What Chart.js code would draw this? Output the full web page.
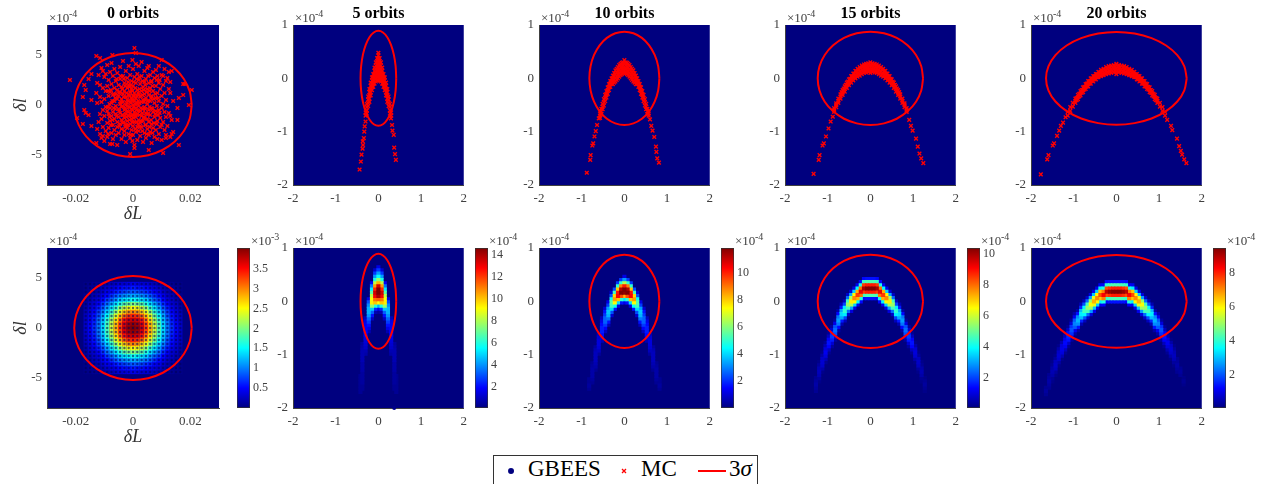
<!DOCTYPE html>
<html>
<head>
<meta charset="utf-8">
<script src="https://cdn.jsdelivr.net/npm/chart.js@4"></script>
<style>
body{margin:0;background:#fff;width:1265px;height:484px;overflow:hidden;position:relative;font-family:'Liberation Serif',serif}
canvas{position:absolute}
#legend{position:absolute;left:493px;top:455px;width:263px;height:40px;border:1px solid #333;background:#fff}
#legend span{position:absolute;top:1px;font-size:23px;line-height:23px;color:#000;white-space:nowrap}
#legend svg{position:absolute;left:0;top:0}
</style>
</head>
<body>
<div id="legend">
<svg width="263" height="30"><circle cx="17" cy="15" r="3" fill="#00007f"/><path d="M128 13l4 4M132 13l-4 4" stroke="#f00" stroke-width="1.3"/><line x1="204" y1="15" x2="232" y2="15" stroke="#f00" stroke-width="2"/></svg>
<span style="left:34px">GBEES</span><span style="left:147px">MC</span><span style="left:235px">3<i>σ</i></span>
</div>
<script>
const orbits = ['0 orbits','5 orbits','10 orbits','15 orbits','20 orbits'];
const xTicks0 = [-0.02,0,0.02], yTicks0 = [-5,0,5];
const xTicks = [-2,-1,0,1,2], yTicks = [-2,-1,0,1];
const cbTicks = [[0.5,1,1.5,2,2.5,3,3.5],[2,4,6,8,10,12,14],[2,4,6,8,10],[2,4,6,8,10],[2,4,6,8]];
const cbRange = [[0,4.02],[0.07,14.6],[0,11.8],[0.06,10.4],[0.03,9.45]];
const cbExp = ['-3','-4','-4','-4','-4'];

// 3 sigma ellipses
const sigX0 = [.0205,.0198,.01775,.0145,.01025,.0053,0,-.0053,-.01025,-.0145,-.01775,-.0198,-.0205,-.0198,-.01775,-.0145,-.01025,-.0053,0,.0053,.01025,.0145,.01775,.0198,.0205];
const sigY0 = [0,1.35,2.6,3.68,4.5,5.02,5.2,5.02,4.5,3.68,2.6,1.35,0,-1.35,-2.6,-3.68,-4.5,-5.02,-5.2,-5.02,-4.5,-3.68,-2.6,-1.35,0];
const sigX5 = [.418,.404,.362,.296,.209,.108,0,-.108,-.209,-.296,-.362,-.404,-.418,-.404,-.362,-.296,-.209,-.108,0,.108,.209,.296,.362,.404,.418];
const sigY5 = [0,.23,.445,.629,.771,.86,.89,.86,.771,.629,.445,.23,0,-.23,-.445,-.629,-.771,-.86,-.89,-.86,-.771,-.629,-.445,-.23,0];
const sigX10 = [.82,.792,.71,.58,.41,.212,0,-.212,-.41,-.58,-.71,-.792,-.82,-.792,-.71,-.58,-.41,-.212,0,.212,.41,.58,.71,.792,.82];
const sigY10 = [0,.227,.438,.619,.758,.845,.875,.845,.758,.619,.438,.227,0,-.227,-.438,-.619,-.758,-.845,-.875,-.845,-.758,-.619,-.438,-.227,0];
const sigX15 = [1.234,1.192,1.069,.872,.617,.32,0,-.32,-.617,-.872,-1.069,-1.192,-1.234,-1.192,-1.069,-.872,-.617,-.32,0,.32,.617,.872,1.069,1.192,1.234];
const sigY15 = [0,.227,.438,.619,.758,.845,.875,.845,.758,.619,.438,.227,0,-.227,-.438,-.619,-.758,-.845,-.875,-.845,-.758,-.619,-.438,-.227,0];
const sigX20 = [1.648,1.592,1.427,1.165,.824,.427,0,-.427,-.824,-1.165,-1.427,-1.592,-1.648,-1.592,-1.427,-1.165,-.824,-.427,0,.427,.824,1.165,1.427,1.592,1.648];
const sigY20 = [0,.225,.435,.615,.753,.84,.87,.84,.753,.615,.435,.225,0,-.225,-.435,-.615,-.753,-.84,-.87,-.84,-.753,-.615,-.435,-.225,0];

// Monte Carlo samples, one list per column: [x, y, y, ...]
const mc0 = [[-.022,2.5],[-.0128,4.9,-3.8,1.2],[-.0115,4.7,-.9],[-.0072,5,-3.9],[.0005,5.7,-4.3],[.001,5.2],[-.0002,4.5,-3.6],[.01,4.5,-2],[.0205,1.5],[.0195,0],[-.0195,-1.3],[-.0175,-1.9,.8],[-.0105,-3.1,3.4],[.016,-4,.7],[.0105,-4.8,2.9],[-.001,-4.9],[.0055,-4.5,3.9],[.0175,1,2.1],[.018,2.1],[.0135,3.4,-1.5,-2.9],[.014,-2.7,.4],[-.0165,1.5,-.8],[-.017,-.5,2],[-.0155,-1,2.6],[.0155,-.3,-1.5],[-.0125,2.2,-2.4,.2],[.0125,1.6,-.8,3.3],[.0115,2.4,-1.2,-3],[-.0145,.5,-2.1,3.1],[-.012,-1.7,3],
[-.0115,.8,-2.9,2],[-.011,3.7,-1.4,.3,-3.3],[-.0105,1.7,-.5,-2.2],[-.01,2.8,.6,-1.1,-3.6],[-.0095,3.1,-.2,-2.6,1.4],[-.009,4,1.9,-1.8,-.6,-3.2],[-.0085,.9,2.5,-.9,-2.3],[-.008,3.3,1.3,-.3,-1.6,-3.9],[-.0075,2.1,.2,-2.8,-1.1,4.2],[-.007,2.9,1,-.7,-2,-3.4],[-.0065,1.7,.4,-1.4,3.6,-2.5],[-.006,2.4,-.1,-.9,1.1,-3],
[-.0055,3.2,1.5,.6,-1.7,-2.2,-4],[-.005,2,.9,-.4,-1.2,-2.8],[-.0045,3.8,2.6,1.3,.1,-.8,-1.9],[-.004,1.8,.6,-.2,-1.5,-2.4,-3.4],[-.0035,2.9,1.1,.3,-1,-1.8,4.4],[-.003,2.2,1.4,-.5,-1.3,-2.6,-3],[-.0025,3.4,.8,0,-.9,-2,-3.7],[-.002,2.7,1.7,.5,-.6,-1.6,-2.3],[-.0015,3.9,2,1,-.2,-1.1,-2.9],[-.001,3,1.3,.3,-.8,-1.9,-3.3],[-.0005,2.4,1.6,.6,-.4,-1.4,-2.5],
[0,3.6,1.9,.9,0,-1,-2.1,-3],[.0005,2.8,1.2,.4,-.7,-1.7,-4],[.001,4.1,2.2,.7,-.3,-1.2,-2.7],[.0015,3.1,1.5,.2,-.9,-2.2,-3.5],[.002,3.9,2.5,1,-.1,-1.5,-2.6],[.0025,2.1,.8,-.6,-1.8,-3.1],[.003,4.3,2.9,1.4,.3,-1.1,-2.2],[.0035,1.8,.5,-.4,-1.6,-3.7],[.004,3.4,2.3,1.1,-.2,-1.3,-2.8],[.0045,2.6,.7,-.8,-2,-3.3],[.005,3.7,1.6,.1,-1.4,-2.4],[.0055,2.2,1,-.5,-1.7,-3],
[.006,3,.4,-1,-2.7,1.7],[.0065,2.4,.9,-.3,-1.9,-3.8],[.007,3.3,1.4,-.7,-2.3],[.0075,2.7,.2,-1.2,-3.2],[.008,1.9,.7,-.6,-2.5,3.5],[.0085,2.9,1.2,-1.6,-3.4],[.009,.4,-.5,2.2,-2.9,3.9],[.0095,1.6,-1.3,-2.2],[.01,3,.9,-.3,-3.5],[.0105,2,-1.7,.1],[.011,3.6,1.2,-.7,-2.5],[.0115,.5,-3.3],[.012,2.7,-.1,-2.1],[.013,1.2,-1.1,-3.2,2.3],
[-.0062,.7,-.4],[-.0057,-1.1,2.6],[-.0048,1.2,-.6,-2.1],[-.0043,.3,2.9],[-.0037,-1,1.6,-.1],[-.0032,.8,-1.7,2.6],[-.0027,-.3,1.9,-2.2],[-.0022,1.2,-1.2,.2],[-.0017,2.3,.4,-.7,-2],[-.0012,.9,-.2,1.8,-1.5],[-.0007,2,.2,-1.1,-3],[-.0002,1.4,.5,-.5,-1.7],[.0003,2.3,.9,-.2,-1.3],[.0008,1.7,.1,-1,-2.4],[.0013,2.6,.9,-.5,-1.7],[.0018,1.2,.4,-.6,-1.9],[.0023,2.8,1.6,.2,-1,-2.2],[.0028,.9,-.3,-1.6],[.0033,2.4,1,-.8,-2.6],[.0038,.3,1.5,-1.2],[.0043,2,.5,-.4,-2],[.0048,1.3,-.9,-2.9],[.0053,2.9,.4,-.9],[.0058,1.4,-.2,-2.2],[.0063,.7,-1.5,2.3],[.0068,1.9,-.4,-2.8],[.0073,.6,-1.8],[-.0067,1.1,-.3],[-.0072,.4,-1.5],[-.0077,1.5,-2],[-.0082,.1,-1.2],[-.0087,1.4,-.2,-2.9],[.0078,1.1,-.9],[.0083,-.1,2.5,-1.9],[.0088,.7,-1],[.0093,2.5,-.8]];
const mc5 = [[-.44,-1.71],[-.41,-1.56],[-.395,-1.43],[-.37,-1.32],[-.36,-1.25],[-.365,-1.18],[-.34,-1.12],[-.33,-1],[-.32,-.9],[-.3,-.81,-.64,-.7],[-.27,-.48,-.54,-.6,-.66],[-.24,-.34,-.4,-.46,-.52],[-.21,-.2,-.26,-.32,-.38,-.44],[-.18,-.08,-.14,-.2,-.26,-.32],[-.15,.02,-.04,-.1,-.16,-.22],[-.12,.08,.02,-.04,-.1,-.16],[-.09,.2,.14,.08,.02,-.04,-.1],[-.06,.3,.24,.18,.12,.06,0,-.06],[-.03,.38,.32,.26,.2,.14,.08,.02,-.04],[0,.48,.43,.38,.32,.26,.2,.14,.08,.02,-.04],[.03,.38,.32,.26,.2,.14,.08,.02,-.04],[.06,.3,.24,.18,.12,.06,0,-.06],[.09,.2,.14,.08,.02,-.04,-.1],[.12,.08,.02,-.04,-.1,-.16],[.15,.02,-.04,-.1,-.16,-.22],[.18,-.08,-.14,-.2,-.26,-.32],[.21,-.2,-.26,-.32,-.38,-.44],[.24,-.34,-.4,-.46,-.52],[.27,-.48,-.54,-.6,-.66],[.3,-.64,-.7],[.295,-.75],[.32,-.875],[.33,-.98],[.36,-1.06],[.37,-1.3],[.39,-1.42],[.41,-1.53]];
const mc10 = [[-.88,-1.77],[-.8,-1.53],[-.79,-1.44],[-.75,-1.26],[-.73,-1.22],[-.7,-1.09],[-.67,-.99],[-.64,-.875],[-.6,-.75],[-.57,-.66,-.7,-.74],[-.54,-.57,-.62,-.67],[-.51,-.48,-.53,-.58],[-.48,-.39,-.45,-.51],[-.45,-.31,-.37,-.43],[-.42,-.24,-.3,-.36],[-.39,-.17,-.23,-.29],[-.36,-.11,-.16,-.22],[-.33,-.05,-.1,-.16],[-.3,0,-.05,-.11],[-.27,.05,0,-.05,-.11],[-.24,.1,.04,-.03,-.08],[-.21,.15,.08,.01,-.06],[-.18,.18,.11,.04,-.03],[-.15,.21,.14,.07,0],[-.12,.25,.17,.1,.03],[-.09,.27,.2,.13,.06],[-.06,.29,.22,.15,.08],[-.03,.3,.24,.17,.1],[0,.34,.28,.22,.16,.1],[.03,.3,.24,.17,.1],[.06,.29,.22,.15,.08],[.09,.27,.2,.13,.06],[.12,.25,.17,.1,.03],[.15,.21,.14,.07,0],[.18,.18,.11,.04,-.03],[.21,.15,.08,.01,-.06],[.24,.1,.04,-.03,-.08],[.27,.05,0,-.05,-.11],[.3,0,-.05,-.11],[.33,-.05,-.1,-.16],[.36,-.11,-.16,-.22],[.39,-.17,-.23,-.29],[.42,-.24,-.3,-.36],[.45,-.31,-.37,-.43],[.48,-.39,-.45,-.51],[.51,-.48,-.53,-.58],[.54,-.57,-.62,-.67],[.57,-.66,-.7],[.6,-.77],[.63,-.89],[.66,-.98],[.7,-1.1],[.74,-1.28],[.75,-1.38],[.77,-1.5],[.81,-1.58]];
const mc15 = [[-1.33,-1.79],[-1.21,-1.53],[-1.19,-1.44],[-1.12,-1.26],[-1.09,-1.22],[-1.04,-1.09],[-.98,-.94],[-.93,-.81],[-.88,-.72],[-.85,-.56,-.6,-.63],[-.8,-.47,-.5,-.54],[-.75,-.38,-.42,-.46],[-.7,-.3,-.34,-.38],[-.65,-.22,-.27,-.31],[-.6,-.15,-.2,-.25],[-.55,-.08,-.13,-.18],[-.5,-.02,-.08,-.13],[-.45,.04,-.02,-.08],[-.4,.09,.03,-.04],[-.35,.14,.07,0],[-.3,.18,.1,.03],[-.25,.21,.13,.05],[-.2,.24,.16,.08],[-.15,.26,.18,.1],[-.1,.27,.19,.11],[-.05,.28,.2,.12],[0,.3,.25,.2,.14,.1],[.05,.28,.2,.12],[.1,.27,.19,.11],[.15,.26,.18,.1],[.2,.24,.16,.08],[.25,.21,.13,.05],[.3,.18,.1,.03],[.35,.14,.07,0],[.4,.09,.03,-.04],[.45,.04,-.02,-.08],[.5,-.02,-.08,-.13],[.55,-.08,-.13,-.18],[.6,-.15,-.2,-.25],[.65,-.22,-.27,-.31],[.7,-.3,-.34,-.38],[.75,-.38,-.42,-.46],[.8,-.47,-.5,-.54],[.85,-.56,-.6,-.63],[.91,-.78],[.95,-.89],[.99,-.98],[1.07,-1.13],[1.11,-1.28],[1.15,-1.41],[1.19,-1.5],[1.24,-1.59],
[-.675,-.26,-.3],[-.625,-.19,-.23],[-.575,-.12,-.17],[-.525,-.06,-.11],[-.475,-.01,-.06],[-.425,.04,-.02],[-.375,.09,.02],[-.325,.13,.05],[-.275,.16,.08],[-.225,.19,.11],[-.175,.21,.13],[-.125,.22,.14],[-.075,.23,.15],[-.025,.24,.16],[.025,.24,.16],[.075,.23,.15],[.125,.22,.14],[.175,.21,.13],[.225,.19,.11],[.275,.16,.08],[.325,.13,.05],[.375,.09,.02],[.425,.04,-.02],[.475,-.01,-.06],[.525,-.06,-.11],[.575,-.12,-.17],[.625,-.19,-.23],[.675,-.26,-.3]];
const mc20 = [[-1.77,-1.8],[-1.62,-1.52],[-1.59,-1.44],[-1.49,-1.26],[-1.46,-1.22],[-1.39,-1.08],[-1.34,-.98],[-1.3,-.89],[-1.25,-.83],[-1.19,-.73],[-1.14,-.63,-.7],[-1.08,-.54,-.61],[-1.02,-.46,-.53],[-.96,-.38,-.42,-.46],[-.9,-.31,-.35,-.39],[-.84,-.24,-.28,-.32],[-.78,-.17,-.22,-.26],[-.72,-.11,-.16,-.2],[-.66,-.05,-.1,-.15],[-.6,0,-.05,-.1],[-.54,.04,-.01,-.06],[-.48,.08,.03,-.02],[-.42,.12,.07,.02],[-.36,.16,.1,.04],[-.3,.18,.12,.06],[-.24,.21,.14,.08],[-.18,.23,.16,.09],[-.12,.24,.17,.1],[-.06,.25,.18,.11],[0,.27,.2,.13,.08],[.06,.25,.18,.11],[.12,.24,.17,.1],[.18,.23,.16,.09],[.24,.21,.14,.08],[.3,.18,.12,.06],[.36,.16,.1,.04],[.42,.12,.07,.02],[.48,.08,.03,-.02],[.54,.04,-.01,-.06],[.6,0,-.05,-.1],[.66,-.05,-.1,-.15],[.72,-.11,-.16,-.2],[.78,-.17,-.22,-.26],[.84,-.24,-.28,-.32],[.9,-.31,-.35,-.39],[.96,-.38,-.42,-.46],[1.02,-.46,-.53],[1.08,-.54,-.61],[1.14,-.63,-.7],[1.19,-.78],[1.28,-.89],[1.31,-.97],[1.42,-1.13],[1.47,-1.27],[1.51,-1.36],[1.54,-1.43],[1.59,-1.52],[1.64,-1.59],
[-.93,-.37,-.41],[-.87,-.29,-.34],[-.81,-.22,-.27],[-.75,-.16,-.21],[-.69,-.1,-.15],[-.63,-.05,-.1],[-.57,0,-.05],[-.51,.04,-.02],[-.45,.08,.02],[-.39,.11,.05],[-.33,.14,.07],[-.27,.16,.09],[-.21,.18,.11],[-.15,.2,.13],[-.09,.21,.14],[-.03,.22,.15],[.03,.22,.15],[.09,.21,.14],[.15,.2,.13],[.21,.18,.11],[.27,.16,.09],[.33,.14,.07],[.39,.11,.05],[.45,.08,.02],[.51,.04,-.02],[.57,0,-.05],[.63,-.05,-.1],[.69,-.1,-.15],[.75,-.16,-.21],[.81,-.22,-.27],[.87,-.29,-.34],[.93,-.37,-.41]];

// GBEES density, percent of the colorbar. 0 orbit panel is a full table
const heatX0 = [-.0165,-.015,-.0135,-.012,-.0105,-.009,-.0075,-.006,-.0045,-.003,-.0015,0,.0015,.003,.0045,.006,.0075,.009,.0105,.012,.0135,.015,.0165];
const heatY0 = [4.4,4,3.6,3.2,2.8,2.4,2,1.6,1.2,.8,.4,0,-.4,-.8,-1.2,-1.6,-2,-2.4,-2.8,-3.2,-3.6,-4,-4.4];
const heat0 = [
[1,1,2,2,3,4,6,7,8,9,10,10,10,9,8,7,6,4,3,2,2,1,1],
[1,2,2,4,5,7,9,10,12,14,14,15,14,14,12,10,9,7,5,4,2,2,1],
[1,2,4,5,7,10,12,15,17,19,21,21,21,19,17,15,12,10,7,5,4,2,1],
[2,3,5,7,10,13,17,21,24,27,29,29,29,27,24,21,17,13,10,7,5,3,2],
[3,4,7,9,13,18,22,27,32,36,38,39,38,36,32,27,22,18,13,9,7,4,3],
[3,6,8,12,17,23,29,35,41,46,49,50,49,46,41,35,29,23,17,12,8,6,3],
[4,7,10,15,21,28,36,43,51,57,61,62,61,57,51,43,36,28,21,15,10,7,4],
[5,8,12,18,25,33,42,52,60,67,72,74,72,67,60,52,42,33,25,18,12,8,5],
[6,9,14,20,29,38,48,59,69,77,82,84,82,77,69,59,48,38,29,20,14,9,6],
[6,10,15,23,31,42,53,65,76,85,91,93,91,85,76,65,53,42,31,23,15,10,6],
[7,11,16,24,33,44,56,69,80,90,96,98,96,90,80,69,56,44,33,24,16,11,7],
[7,11,17,24,34,45,58,70,82,92,98,100,98,92,82,70,58,45,34,24,17,11,7],
[7,11,16,24,33,44,56,69,80,90,96,98,96,90,80,69,56,44,33,24,16,11,7],
[6,10,15,23,31,42,53,65,76,85,91,93,91,85,76,65,53,42,31,23,15,10,6],
[6,9,14,20,29,38,48,59,69,77,82,84,82,77,69,59,48,38,29,20,14,9,6],
[5,8,12,18,25,33,42,52,60,67,72,74,72,67,60,52,42,33,25,18,12,8,5],
[4,7,10,15,21,28,36,43,51,57,61,62,61,57,51,43,36,28,21,15,10,7,4],
[3,6,8,12,17,23,29,35,41,46,49,50,49,46,41,35,29,23,17,12,8,6,3],
[3,4,7,9,13,18,22,27,32,36,38,39,38,36,32,27,22,18,13,9,7,4,3],
[2,3,5,7,10,13,17,21,24,27,29,29,29,27,24,21,17,13,10,7,5,3,2],
[1,2,4,5,7,10,12,15,17,19,21,21,21,19,17,15,12,10,7,5,4,2,1],
[1,2,2,4,5,7,9,10,12,14,14,15,14,14,12,10,9,7,5,4,2,2,1],
[1,1,2,2,3,4,6,7,8,9,10,10,10,9,8,7,6,4,3,2,2,1,1]];

// other panels: [x, top y, v, v, ...] going down in steps of 0.06
const heat5 = [[-.42,-1.4,2,2,2,2,2,2],[-.375,-.8,3,4,5,5,5,5,4,4,4,3,3,3,3,2,2],[-.3,-.32,6,10,11,12,12,11,10,9,8,7,5,4],[-.225,.04,10,20,26,30,30,27,22,18,14,10,5],[-.15,.34,12,24,36,46,56,62,64,52,32,22,14,6],[-.075,.58,8,18,28,40,56,72,84,92,88,76,68,40,16,5],[0,.64,10,18,28,38,52,70,92,100,100,96,78,62,30,10,3],[.075,.58,8,18,28,40,56,72,84,92,88,76,68,40,16,5],[.15,.34,12,24,36,46,56,62,64,52,32,22,14,6],[.225,.04,10,20,26,30,30,27,22,18,14,10,5],[.3,-.32,6,10,11,12,12,11,10,9,8,7,5,4],[.375,-.8,3,4,5,5,5,5,4,4,4,3,3,3,3,2,2],[.42,-1.4,2,2,2,2,2,2]];
const heat10 = [[-.825,-1.46,2,2,3,2],[-.75,-1.16,2,3,4,4,4,3,2],[-.675,-.86,3,5,6,6,6,5,4,2],[-.6,-.62,5,8,9,9,8,6,3],[-.525,-.32,6,10,13,15,15,13,9,5],[-.45,-.14,8,14,18,22,22,18,12,6],[-.375,-.02,10,18,28,32,30,24,14,6],[-.3,.16,8,20,38,46,44,34,20,8],[-.225,.22,20,44,66,72,62,38,14],[-.15,.34,18,42,68,86,88,68,34,10],[-.075,.4,18,42,75,95,100,80,42,14],[0,.46,10,28,55,85,100,98,70,35,10],[.075,.4,18,42,75,95,100,80,42,14],[.15,.34,18,42,68,86,88,68,34,10],[.225,.22,20,44,66,72,62,38,14],[.3,.16,8,20,38,46,44,34,20,8],[.375,-.02,10,18,28,32,30,24,14,6],[.45,-.14,8,14,18,22,22,18,12,6],[.525,-.32,6,10,13,15,15,13,9,5],[.6,-.62,5,8,9,9,8,6,3],[.675,-.86,3,5,6,6,6,5,4,2],[.75,-1.16,2,3,4,4,4,3,2],[.825,-1.46,2,2,3,2]];
const heat15 = [[-1.275,-1.44,2,3,4,3,2],[-1.2,-1.14,1,3,5,6,5,3,1],[-1.125,-.96,1,4,7,8,7,4,1],[-1.05,-.78,2,5,9,11,9,5,2],[-.975,-.6,2,6,12,14,12,6,2],[-.9,-.48,3,8,15,18,15,8,3],[-.825,-.36,3,10,20,23,20,10,3],[-.75,-.18,4,13,24,28,24,13,4],[-.675,-.06,5,15,29,34,29,15,5],[-.6,0,6,19,36,42,36,19,6],[-.525,.12,7,23,44,52,44,23,7],[-.45,.18,9,29,54,64,54,29,9],[-.375,.24,10,33,63,74,63,33,10],[-.3,.3,11,37,70,82,70,37,11],[-.225,.36,13,40,76,90,76,40,13],[-.15,.42,13,43,82,96,82,43,13],[-.075,.42,14,45,85,100,85,45,14],[0,.42,14,45,85,100,85,45,14],[.075,.42,14,45,85,100,85,45,14],[.15,.42,13,43,82,96,82,43,13],[.225,.36,13,40,76,90,76,40,13],[.3,.3,11,37,70,82,70,37,11],[.375,.24,10,33,63,74,63,33,10],[.45,.18,9,29,54,64,54,29,9],[.525,.12,7,23,44,52,44,23,7],[.6,0,6,19,36,42,36,19,6],[.675,-.06,5,15,29,34,29,15,5],[.75,-.18,4,13,24,28,24,13,4],[.825,-.36,3,10,20,23,20,10,3],[.9,-.48,3,8,15,18,15,8,3],[.975,-.6,2,6,12,14,12,6,2],[1.05,-.78,1,4,8,9,8,4,1],[1.125,-.96,1,3,6,7,6,3,1],[1.2,-1.14,1,2,4,5,4,2,1],[1.275,-1.44,1,2,3,2,1]];
const heat20 = [[-1.65,-1.62,2,3,2],[-1.575,-1.38,2,3,4,3,2],[-1.5,-1.14,1,2,4,5,4,2,1],[-1.425,-1.02,1,3,6,7,6,3,1],[-1.35,-.84,1,4,7,8,7,4,1],[-1.275,-.72,1,5,9,10,9,5,1],[-1.2,-.6,2,6,11,13,11,6,2],[-1.125,-.48,2,7,14,16,14,7,2],[-1.05,-.36,3,9,17,20,17,9,3],[-.975,-.24,4,11,21,25,21,11,4],[-.9,-.18,4,14,26,30,26,14,4],[-.825,-.06,5,16,31,36,31,16,5],[-.75,0,6,20,37,44,37,20,6],[-.675,.06,7,23,44,52,44,23,7],[-.6,.12,9,28,53,62,53,28,9],[-.525,.18,10,32,60,70,60,32,10],[-.45,.24,10,33,63,74,63,33,10],[-.375,.3,11,36,68,80,68,36,11],[-.3,.3,12,40,75,88,75,40,12],[-.225,.36,13,42,80,94,80,42,13],[-.15,.36,14,44,83,98,83,44,14],[-.075,.36,14,45,85,100,85,45,14],[0,.36,14,45,85,100,85,45,14],[.075,.36,14,45,85,100,85,45,14],[.15,.36,14,44,83,98,83,44,14],[.225,.36,13,42,80,94,80,42,13],[.3,.3,12,40,75,88,75,40,12],[.375,.3,11,36,68,80,68,36,11],[.45,.24,10,33,63,74,63,33,10],[.525,.18,10,32,60,70,60,32,10],[.6,.12,9,28,53,62,53,28,9],[.675,.06,7,23,44,52,44,23,7],[.75,0,6,20,37,44,37,20,6],[.825,-.06,5,16,31,36,31,16,5],[.9,-.18,4,14,26,30,26,14,4],[.975,-.24,4,11,21,25,21,11,4],[1.05,-.36,3,9,17,20,17,9,3],[1.125,-.48,2,6,12,14,12,6,2],[1.2,-.6,2,5,9,11,9,5,2],[1.275,-.72,1,4,7,8,7,4,1],[1.35,-.84,1,3,5,6,5,3,1],[1.425,-1.08,2,3,4,3,2],[1.5,-1.26,2,3,2],[1.575,-1.44,1,2,1]];
const stray5 = [[.37,-2]];

const mcAll = [mc0,mc5,mc10,mc15,mc20];
const heatAll = [null,heat5,heat10,heat15,heat20];
const sigAll = [[sigX0,sigY0],[sigX5,sigY5],[sigX10,sigY10],[sigX15,sigY15],[sigX20,sigY20]];

// page layout
const plotLeft = [47,293,539,785,1031];
const barLeft = [237,475,721,967,1213];
const serif = "'Liberation Serif',serif";
const gray = '#404040';
const navy = '#00007f';

function clamp(v){ return Math.max(0,Math.min(1,v)); }
function jet(p){
  const t = p/100;
  const r = clamp(Math.min(4*t-1.5,-4*t+4.5));
  const g = clamp(Math.min(4*t-0.5,-4*t+3.5));
  const b = clamp(Math.min(4*t+0.5,-4*t+2.5));
  return 'rgb('+Math.round(r*255)+','+Math.round(g*255)+','+Math.round(b*255)+')';
}

function addCanvas(left,top,w,h){
  const c = document.createElement('canvas');
  c.width = w; c.height = h;
  c.style.left = left+'px'; c.style.top = top+'px';
  document.body.appendChild(c);
  return c.getContext('2d');
}

// navy plot background and the x10^n label
const plotDress = {
  id:'plotDress',
  beforeDraw(chart,args,opts){
    if(!opts.back) return;
    const a = chart.chartArea, ctx = chart.ctx;
    ctx.fillStyle = navy;
    ctx.fillRect(a.left,a.top,a.right-a.left,a.bottom-a.top);
  },
  afterDraw(chart,args,opts){
    const a = chart.chartArea, ctx = chart.ctx;
    const x = opts.bar ? a.right+1 : a.left+2;
    const y = a.top-3;
    ctx.save();
    ctx.fillStyle = gray;
    ctx.textAlign = 'left';
    ctx.textBaseline = 'alphabetic';
    ctx.font = '13px '+serif;
    ctx.fillText('×10',x,y);
    ctx.font = '10px '+serif;
    ctx.fillText(opts.exp,x+20,y-5);
    ctx.restore();
  }
};

function sigmaSet(i){
  const pts = sigAll[i][0].map((v,k)=>({x:v,y:sigAll[i][1][k]}));
  return {label:'3σ',data:pts,showLine:true,tension:0.33,borderColor:'#f00',borderWidth:2,pointRadius:0,fill:false};
}

function mcSet(i){
  const pts = [];
  mcAll[i].forEach(col=>{ for(let k=1;k<col.length;k++) pts.push({x:col[0],y:col[k]}); });
  return {label:'MC',data:pts,pointStyle:'crossRot',pointRadius:2.6,pointBorderWidth:1.4,pointBorderColor:'#f00',showLine:false};
}

function heatCells(i){
  const cells = [];
  if(i===0){
    heat0.forEach((row,j)=>row.forEach((v,k)=>cells.push({x:heatX0[k],y:heatY0[j],v:v})));
  }else{
    heatAll[i].forEach(col=>{ for(let k=2;k<col.length;k++) cells.push({x:col[0],y:col[1]-(k-2)*0.06,v:col[k]}); });
  }
  cells.sort((a,b)=>a.v-b.v); // strongest cells end up on top
  return cells;
}

function heatSets(i){
  const cells = heatCells(i);
  const sets = [sigmaSet(i)];
  if(i===0) sets.push({label:'GBEES',data:cells,pointRadius:1.2,pointBorderWidth:0,pointBackgroundColor:'rgba(0,0,90,0.6)',showLine:false});
  if(i===1) sets.push({label:'GBEES',data:stray5.map(p=>({x:p[0],y:p[1]})),pointRadius:2,pointBorderWidth:0,pointBackgroundColor:'#00008b',showLine:false,clip:false});
  sets.push({label:'density',data:cells,pointStyle:'rect',pointRadius:i===0?3.05:2.9,pointBorderWidth:0,pointBackgroundColor:cells.map(c=>jet(c.v)),showLine:false});
  return sets;
}

function axisFont(){ return {family:serif,size:13}; }

function makePanel(i,bottomRow){
  const top = bottomRow ? 225 : 0;
  const ctx = addCanvas(plotLeft[i]-46,top,226,225);
  const tx = i===0 ? xTicks0 : xTicks;
  const ty = i===0 ? yTicks0 : yTicks;
  new Chart(ctx,{
    type:'scatter',
    data:{datasets: bottomRow ? heatSets(i) : [sigmaSet(i),mcSet(i)]},
    plugins:[plotDress],
    options:{
      responsive:false,animation:false,events:[],
      layout:{padding:{right:8,top:bottomRow?23:0}},
      plugins:{
        legend:{display:false},tooltip:{enabled:false},
        plotDress:{back:true,exp:'-4'},
        title:{display:!bottomRow,text:orbits[i],fullSize:false,color:'#000',font:{family:serif,size:16,weight:'bold'},padding:{top:4,bottom:1.8}}
      },
      scales:{
        x:{type:'linear',min:i===0?-0.03:-2,max:i===0?0.03:2,
          afterBuildTicks:s=>{s.ticks=tx.map(v=>({value:v}));},
          afterFit:s=>{s.height=bottomRow?42:40;},
          grid:{display:false,drawTicks:false},border:{color:gray},
          ticks:{color:gray,font:axisFont(),padding:6,maxRotation:0,callback:v=>String(v)},
          title:{display:i===0,text:'δL',color:'#333',font:{family:serif,size:18,style:'italic'},padding:{top:0,bottom:bottomRow?2:0}}},
        y:{type:'linear',min:i===0?-8:-2,max:i===0?8:1,
          afterBuildTicks:s=>{s.ticks=ty.map(v=>({value:v}));},
          afterFit:s=>{s.width=46;},
          grid:{display:false,drawTicks:false},border:{color:gray},
          ticks:{color:gray,font:axisFont(),padding:5,callback:v=>String(v)},
          title:{display:i===0,text:'δl',color:'#333',font:{family:serif,size:18,style:'italic'},padding:{top:9,bottom:0}}}
      }
    }
  });
}

function makeBar(i){
  const ctx = addCanvas(barLeft[i],225,45,195);
  new Chart(ctx,{
    type:'bar',
    data:{labels:[''],datasets:[{
      data:[cbRange[i]],barPercentage:1,categoryPercentage:1,borderWidth:1,borderColor:'#333',borderSkipped:false,
      backgroundColor:c=>{
        const a = c.chart.chartArea;
        if(!a) return navy;
        const g = c.chart.ctx.createLinearGradient(0,a.bottom,0,a.top);
        [0,12.5,37.5,62.5,87.5,100].forEach(p=>g.addColorStop(p/100,jet(p)));
        return g;
      }
    }]},
    plugins:[plotDress],
    options:{
      responsive:false,animation:false,events:[],
      layout:{padding:{top:23,bottom:12}},
      plugins:{legend:{display:false},tooltip:{enabled:false},plotDress:{bar:true,exp:cbExp[i]}},
      scales:{
        x:{display:false},
        y:{type:'linear',position:'right',min:cbRange[i][0],max:cbRange[i][1],
          afterBuildTicks:s=>{s.ticks=cbTicks[i].map(v=>({value:v}));},
          afterFit:s=>{s.width=32;},
          grid:{display:false,drawTicks:false},border:{display:false},
          ticks:{color:gray,font:{family:serif,size:12},padding:3,callback:v=>String(v)}}
      }
    }
  });
}

for(let i=0;i<5;i++){
  makePanel(i,false);
  makePanel(i,true);
  makeBar(i);
}
</script>
</body>
</html>
